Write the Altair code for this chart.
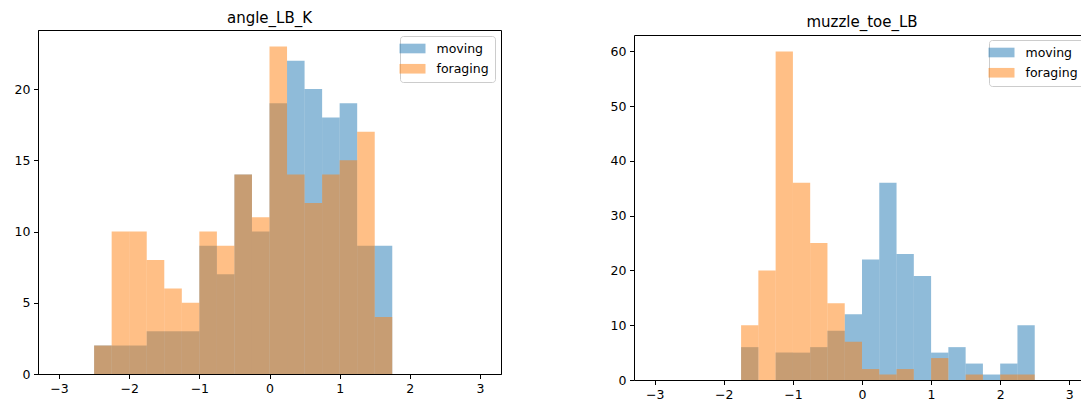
import altair as alt
import pandas as pd

# bin edges (width 0.25 from -3 to 3)
bin_starts = [-3 + 0.25 * i for i in range(24)]

# angle_LB_K counts per bin
angle_moving = [0, 0, 2, 2, 2, 3, 3, 3, 9, 7, 14, 10, 19, 22, 20, 18, 19, 9, 9, 0, 0, 0, 0, 0]
angle_foraging = [0, 0, 2, 10, 10, 8, 6, 5, 10, 9, 14, 11, 23, 14, 12, 14, 15, 17, 4, 0, 0, 0, 0, 0]

# muzzle_toe_LB counts per bin
muzzle_moving = [0, 0, 0, 0, 0, 6, 0, 5, 5, 6, 9, 12, 22, 36, 23, 19, 5, 6, 3, 1, 3, 10, 0, 0]
muzzle_foraging = [0, 0, 0, 0, 0, 10, 20, 60, 36, 25, 14, 7, 2, 1, 2, 0, 4, 0, 1, 0, 1, 1, 0, 0]

groups = ["moving", "foraging"]
colors = ["#1f77b4", "#ff7f0e"]
bin_width = 0.25
x_ticks = [-3, -2, -1, 0, 1, 2, 3]


def make_df(moving, foraging):
    rows = []
    for g, vals in (("moving", moving), ("foraging", foraging)):
        for s, c in zip(bin_starts, vals):
            if c > 0:
                rows.append({"start": s, "end": s + bin_width, "count": c, "group": g})
    return pd.DataFrame(rows)


FONT = "DejaVu Sans"
legend_common = dict(
    title=None,
    symbolType="M-2,-0.74L2,-0.74L2,0.74L-2,0.74Z",
    symbolSize=169,
    symbolOpacity=0.5,
    symbolStrokeWidth=0,
    labelFont=FONT,
    labelFontSize=12.5,
    labelColor="black",
    labelOffset=17.5,
    padding=6,
    rowPadding=7.25,
    fillColor="white",
    strokeColor="#cccccc",
    cornerRadius=3,
)


def title_params(text, offset):
    return alt.TitleParams(text, fontSize=15, font=FONT, fontWeight="normal",
                           color="black", offset=offset)


# ---------- left panel: angle_LB_K ----------
df_left = make_df(angle_moving, angle_foraging)
left = alt.Chart(df_left).mark_rect(opacity=0.5, strokeWidth=0).encode(
    x=alt.X("start:Q", scale=alt.Scale(domain=[-3.3, 3.3], nice=False, zero=False),
            axis=alt.Axis(values=x_ticks, orient="bottom", format="d"), title=None),
    x2="end:Q",
    y=alt.Y("count:Q", scale=alt.Scale(domain=[0, 24.15], nice=False),
            axis=alt.Axis(values=[0, 5, 10, 15, 20], format="d"), title=None),
    y2=alt.datum(0),
    color=alt.Color("group:N", scale=alt.Scale(domain=groups, range=colors),
                    legend=alt.Legend(orient="top-right", offset=6, **legend_common)),
).properties(
    width=463, height=344,
    title=title_params("angle_LB_K", 4),
    view=alt.ViewBackground(stroke="black", strokeWidth=1),
)

# ---------- right panel: muzzle_toe_LB ----------
df_right = make_df(muzzle_moving, muzzle_foraging)
right_x_scale = alt.Scale(domain=[-3.3, 3.3], nice=False, zero=False)
right_y = alt.Y("count:Q", scale=alt.Scale(domain=[0, 63], nice=False, range=[350, 5]),
                axis=alt.Axis(values=[0, 10, 20, 30, 40, 50, 60], format="d"), title=None)
right_bars = alt.Chart(df_right).mark_rect(opacity=0.5, strokeWidth=0).encode(
    x=alt.X("start:Q", scale=right_x_scale,
            axis=alt.Axis(values=x_ticks, orient="bottom", format="d"), title=None),
    x2="end:Q",
    y=right_y,
    y2=alt.datum(0),
    color=alt.Color("group:N", scale=alt.Scale(domain=groups, range=colors),
                    legend=alt.Legend(orient="none", legendX=355, legendY=10, **legend_common)),
)
right_frame = alt.Chart(df_right).mark_rect(opacity=0).encode(
    x=alt.X("start:Q", scale=right_x_scale,
            axis=alt.Axis(orient="top", labels=False, ticks=False, domain=True, offset=-5),
            title=None),
    x2="end:Q",
    y=right_y,
)
right = alt.layer(right_bars, right_frame).properties(
    width=456, height=350,
    title=title_params("muzzle_toe_LB", 0),
    view=alt.ViewBackground(strokeWidth=0),
)

chart = alt.hconcat(left, right, spacing=108).resolve_scale(color="independent").properties(
    autosize=alt.AutoSizeParams(type="none"),
    padding={"left": 30, "top": 22, "right": 1043, "bottom": 373},
).configure_axis(
    labelFont=FONT,
    labelFontSize=12.5,
    labelColor="black",
    tickColor="black",
    domainColor="black",
    tickSize=4.5,
    labelPadding=3.5,
    grid=False,
    domainWidth=1,
    tickWidth=1,
).configure_title(anchor="middle")

chart.save("out.html", embed_options={"renderer": "svg", "actions": False})
